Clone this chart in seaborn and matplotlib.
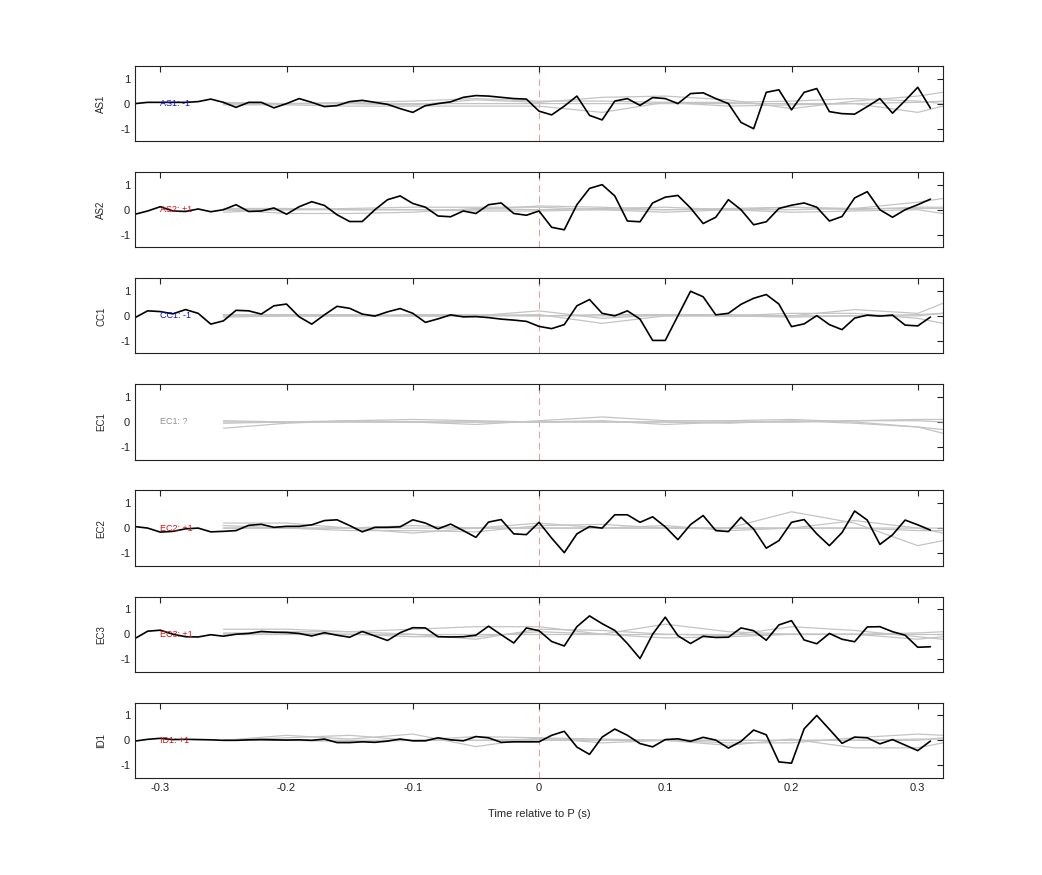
import numpy as np
import pandas as pd
import matplotlib
matplotlib.use("Agg")
import matplotlib.pyplot as plt
import seaborn as sns

sns.set_theme(style="white")
plt.rcParams['font.family'] = ['Liberation Sans', 'DejaVu Sans']

stations = ["AS1", "AS2", "CC1", "EC1", "EC2", "EC3", "ID1"]
polarity = ["-1", "+1", "-1", "?", "+1", "+1", "+1"]
pol_colors = {"-1": "#1010d0", "+1": "#d01010", "?": "#909090"}

t_black = [round(-0.32 + 0.01 * i, 2) for i in range(64)]

black = {
    "AS1": [0.0, 0.05, 0.05, 0.05, 0.05, 0.08, 0.18, 0.05, -0.15, 0.05, 0.05, -0.17, 0.0, 0.2, 0.05, -0.12,
            -0.08, 0.08, 0.13, 0.05, -0.03, -0.2, -0.35, -0.08, 0.0, 0.07, 0.25, 0.32, 0.3, 0.25, 0.2, 0.18,
            -0.3, -0.45, -0.1, 0.3, -0.47, -0.65, 0.1, 0.2, -0.07, 0.24, 0.2, 0.0, 0.4, 0.43, 0.2, 0.0,
            -0.75, -1.0, 0.45, 0.55, -0.25, 0.45, 0.6, -0.32, -0.4, -0.42, -0.12, 0.2, -0.38, 0.12, 0.65, -0.18],
    "AS2": [-0.18, -0.05, 0.12, -0.05, -0.07, 0.03, -0.08, 0.0, 0.2, -0.07, -0.05, 0.07, -0.18, 0.12, 0.32, 0.17,
            -0.2, -0.47, -0.47, 0.0, 0.4, 0.55, 0.25, 0.1, -0.25, -0.28, -0.05, -0.15, 0.2, 0.27, -0.15, -0.22,
            -0.05, -0.7, -0.8, 0.2, 0.85, 1.0, 0.55, -0.45, -0.48, 0.27, 0.5, 0.57, 0.07, -0.55, -0.3, 0.4,
            0.0, -0.6, -0.48, 0.05, 0.18, 0.27, 0.1, -0.45, -0.27, 0.47, 0.72, 0.0, -0.3, 0.0, 0.2, 0.42],
    "CC1": [-0.07, 0.2, 0.17, 0.08, 0.25, 0.1, -0.33, -0.2, 0.22, 0.2, 0.07, 0.4, 0.47, -0.04, -0.33, 0.04,
            0.38, 0.3, 0.07, -0.01, 0.16, 0.29, 0.1, -0.26, -0.12, 0.04, -0.04, -0.03, -0.07, -0.13, -0.17, -0.22,
            -0.42, -0.51, -0.35, 0.4, 0.65, 0.1, 0.0, 0.2, -0.13, -0.98, -0.98, 0.0, 0.98, 0.76, 0.04, 0.1,
            0.46, 0.7, 0.85, 0.47, -0.43, -0.32, 0.01, -0.35, -0.55, -0.09, 0.03, -0.01, 0.03, -0.37, -0.4, -0.05],
    "EC1": None,
    "EC2": [0.06, 0.0, -0.16, -0.13, -0.03, 0.0, -0.15, -0.13, -0.1, 0.11, 0.15, 0.03, 0.07, 0.07, 0.13, 0.3,
            0.33, 0.1, -0.15, 0.03, 0.03, 0.05, 0.33, 0.2, -0.03, 0.16, -0.1, -0.37, 0.24, 0.34, -0.23, -0.26,
            0.23, -0.4, -0.98, -0.23, 0.06, 0.0, 0.53, 0.53, 0.23, 0.45, 0.05, -0.46, 0.14, 0.5, -0.1, -0.14,
            0.43, -0.04, -0.8, -0.5, 0.23, 0.34, -0.23, -0.7, -0.18, 0.68, 0.32, -0.65, -0.27, 0.32, 0.13, -0.08],
    "EC3": [-0.17, 0.12, 0.16, 0.0, -0.1, -0.11, -0.02, -0.08, 0.0, 0.03, 0.11, 0.08, 0.07, 0.03, -0.07, 0.06,
            -0.04, -0.12, 0.11, -0.07, -0.25, 0.06, 0.26, 0.25, -0.1, -0.11, -0.1, -0.04, 0.32, -0.02, -0.35, 0.25,
            0.14, -0.29, -0.47, 0.3, 0.73, 0.42, 0.15, -0.37, -0.97, 0.0, 0.68, -0.06, -0.37, -0.08, -0.13, -0.12,
            0.25, 0.14, -0.24, 0.37, 0.54, -0.23, -0.38, 0.03, -0.2, -0.3, 0.29, 0.3, 0.1, -0.04, -0.52, -0.5],
    "ID1": [-0.03, 0.04, 0.08, 0.03, 0.04, 0.03, 0.02, 0.0, 0.0, 0.02, 0.03, 0.02, 0.01, 0.02, 0.0, 0.05,
            -0.09, -0.09, -0.06, -0.08, -0.03, 0.05, -0.02, -0.02, 0.1, 0.02, -0.02, 0.15, 0.1, -0.08, -0.06, -0.06,
            -0.06, 0.2, 0.36, -0.27, -0.56, 0.13, 0.45, 0.2, -0.13, -0.26, 0.03, 0.06, -0.04, 0.12, 0.01, -0.31,
            -0.04, 0.41, 0.22, -0.86, -0.91, 0.46, 0.99, 0.44, -0.12, 0.13, 0.1, -0.14, 0.03, -0.19, -0.41, -0.03],
}

t_gray = [-0.25, -0.2, -0.15, -0.1, -0.05, 0.0, 0.05, 0.1, 0.15, 0.2, 0.25, 0.3, 0.32]
gray = {
    "AS1": [[0.0, 0.0, 0.0, -0.05, 0.15, 0.05, 0.25, 0.3, 0.15, -0.2, 0.1, 0.3, 0.45],
            [-0.05, -0.05, -0.1, -0.1, -0.1, -0.1, -0.35, 0.05, -0.1, -0.05, 0.0, -0.35, -0.1],
            [0.05, 0.0, 0.05, 0.1, 0.2, 0.1, 0.1, 0.05, 0.05, 0.1, 0.2, 0.1, 0.0],
            [0.0, 0.0, 0.0, 0.0, 0.0, 0.0, 0.0, 0.0, 0.0, 0.0, 0.0, 0.05, 0.1]],
    "AS2": [[-0.1, 0.0, 0.05, 0.1, 0.1, 0.1, 0.0, -0.1, 0.0, 0.1, 0.05, 0.3, 0.45],
            [0.0, -0.15, -0.15, -0.1, 0.05, 0.0, 0.05, 0.1, 0.0, -0.1, -0.05, 0.0, -0.15],
            [0.05, 0.05, 0.0, 0.0, 0.0, 0.15, 0.1, 0.0, 0.05, 0.1, 0.0, 0.1, 0.1],
            [0.0, 0.0, 0.0, 0.0, -0.05, -0.05, 0.0, 0.0, 0.0, 0.0, 0.05, 0.05, 0.05]],
    "CC1": [[0.0, 0.0, 0.0, 0.0, 0.0, 0.2, -0.1, 0.05, 0.05, 0.0, 0.25, 0.1, 0.5],
            [0.05, 0.05, 0.05, 0.0, 0.0, 0.05, -0.3, 0.0, 0.0, 0.1, 0.1, -0.1, -0.3],
            [-0.05, 0.0, 0.0, 0.05, 0.05, 0.0, 0.05, 0.05, 0.0, -0.05, 0.0, 0.0, 0.1],
            [0.0, 0.0, 0.0, 0.0, 0.0, 0.0, 0.0, 0.0, 0.0, 0.0, 0.0, 0.05, 0.1]],
    "EC1": [[-0.25, -0.05, 0.05, 0.0, -0.1, 0.05, 0.2, 0.05, 0.05, 0.1, 0.0, -0.2, -0.3],
            [0.0, 0.0, 0.05, 0.1, 0.05, 0.0, 0.05, -0.1, 0.0, 0.0, 0.05, 0.05, 0.0],
            [-0.05, 0.0, 0.0, 0.0, 0.0, 0.0, 0.0, 0.0, -0.05, 0.05, -0.05, -0.2, -0.45],
            [0.05, 0.0, 0.0, 0.0, 0.0, 0.0, 0.0, 0.0, 0.0, 0.0, 0.05, 0.1, 0.1]],
    "EC2": [[0.2, 0.2, 0.0, -0.2, 0.0, 0.2, 0.0, 0.0, 0.0, 0.65, 0.2, -0.7, -0.5],
            [0.0, 0.0, -0.1, -0.1, -0.15, 0.1, 0.15, 0.0, 0.0, 0.0, 0.3, 0.0, -0.2],
            [0.1, 0.0, 0.0, 0.1, 0.0, 0.0, 0.0, 0.1, -0.1, 0.0, 0.0, 0.0, 0.0],
            [0.0, 0.0, 0.0, 0.0, 0.0, 0.0, 0.0, 0.0, 0.0, 0.0, 0.0, -0.1, -0.1]],
    "EC3": [[0.2, 0.2, 0.1, 0.2, 0.3, 0.3, 0.0, 0.4, 0.1, 0.0, 0.0, 0.05, 0.1],
            [0.0, 0.1, 0.1, 0.0, -0.2, 0.2, 0.15, 0.0, -0.05, 0.3, 0.15, -0.1, -0.2],
            [0.05, 0.05, 0.0, -0.1, -0.1, 0.1, 0.0, -0.15, -0.1, 0.0, 0.0, -0.2, -0.1],
            [0.0, 0.0, 0.0, 0.0, 0.0, 0.0, 0.0, 0.0, 0.0, 0.0, 0.0, 0.0, 0.0]],
    "ID1": [[0.0, 0.1, 0.2, 0.0, 0.15, 0.1, -0.1, 0.0, -0.1, -0.1, 0.1, 0.25, 0.2],
            [0.0, 0.2, 0.05, 0.25, -0.25, 0.1, 0.05, 0.0, -0.2, 0.05, -0.3, -0.3, -0.1],
            [0.0, 0.0, -0.05, 0.0, 0.0, 0.05, 0.0, 0.0, 0.0, 0.0, 0.0, 0.0, 0.1],
            [0.0, 0.0, 0.0, 0.0, 0.0, 0.0, 0.0, 0.0, 0.0, 0.0, 0.0, 0.05, 0.05]],
}

xticks = [-0.3, -0.2, -0.1, 0, 0.1, 0.2, 0.3]
xticklabels = ["-0.3", "-0.2", "-0.1", "0", "0.1", "0.2", "0.3"]
yticks = [-1, 0, 1]

fig, axes = plt.subplots(len(stations), 1, figsize=(10.42, 8.75), dpi=100, sharex=True)
fig.subplots_adjust(left=0.1296, right=0.905, top=0.9246, bottom=0.1109, hspace=0.41)

for ax, st, pol in zip(axes, stations, polarity):
    for g in gray[st]:
        sns.lineplot(x=t_gray, y=g, ax=ax, color="#c4c4c4", linewidth=0.9, estimator=None, sort=False)
    if black[st] is not None:
        sns.lineplot(x=t_black, y=black[st], ax=ax, color="black", linewidth=1.2, estimator=None, sort=False)
    ax.axvline(0, color="#e8a0a0", linestyle=(0, (6, 4)), linewidth=0.8, zorder=0)
    ax.text(-0.30, 0, f"{st}: {pol}", color=pol_colors[pol], fontsize=6.5, va="center", ha="left")
    ax.set_xlim(-0.32, 0.32)
    ax.set_ylim(-1.5, 1.5)
    ax.set_yticks(yticks)
    ax.set_yticklabels(["-1", "0", "1"], fontsize=8)
    ax.set_xticks(xticks)
    ax.set_ylabel(st, fontsize=7, labelpad=10)
    ax.tick_params(direction="in", top=True, right=True, length=4, width=0.8, colors="#222222",
                   labelcolor="#222222")
    for s in ax.spines.values():
        s.set_visible(True)
        s.set_color("#222222")
        s.set_linewidth(0.8)

axes[-1].set_xticklabels(xticklabels, fontsize=8)
axes[-1].set_xlabel("Time relative to P (s)", fontsize=8, labelpad=12)

fig.savefig("out.png", dpi=100, facecolor="white")
